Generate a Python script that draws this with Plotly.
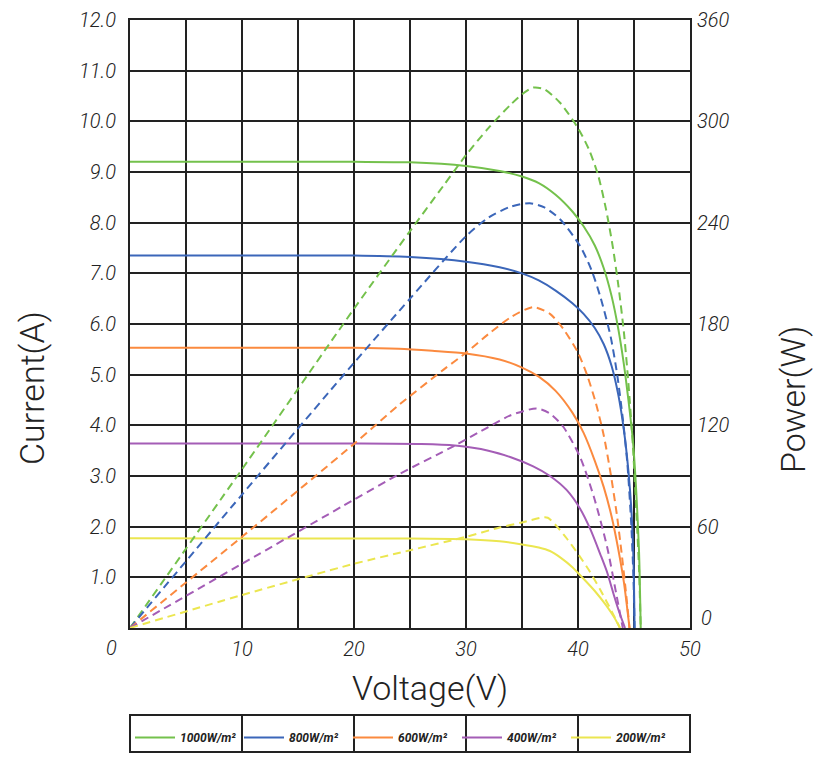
import plotly.graph_objects as go

# ---------------- data ----------------
labels = ["1000W/m²", "800W/m²", "600W/m²", "400W/m²", "200W/m²"]
colors = ["#74c14c", "#3b66b9", "#fb8a3f", "#a45db6", "#ebe650"]

# I-V curves (solid, left axis)
v_i_1000 = [0, 20, 25, 30, 33, 35, 36.5, 38, 39.5, 40.5, 41.5, 42.3, 43, 43.6, 44.1, 44.5, 44.9, 45.2, 45.45, 45.6]
i_1000 = [9.2, 9.2, 9.19, 9.12, 9.02, 8.91, 8.78, 8.55, 8.22, 7.93, 7.55, 7.1, 6.55, 5.9, 5.2, 4.5, 3.7, 2.7, 1.5, 0]

v_i_800 = [0, 20, 25, 30, 33, 35, 36.5, 38, 39.5, 40.5, 41.5, 42.3, 43, 43.6, 44.1, 44.5, 44.8, 44.97, 45.05]
i_800 = [7.35, 7.35, 7.32, 7.23, 7.12, 7.0, 6.86, 6.66, 6.41, 6.2, 5.92, 5.6, 5.17, 4.6, 3.9, 3.1, 2.2, 1.2, 0]

v_i_600 = [0, 20, 24, 27, 30, 33, 35, 36.5, 38, 39.5, 40.5, 41.5, 42.3, 43, 43.6, 44.1, 44.6]
i_600 = [5.53, 5.53, 5.51, 5.47, 5.42, 5.3, 5.14, 4.96, 4.68, 4.25, 3.85, 3.3, 2.78, 2.2, 1.55, 0.9, 0]

v_i_400 = [0, 20, 26, 29, 32, 34, 36, 37.5, 39, 40.2, 41.1, 42, 42.6, 43.2, 43.7, 44.2]
i_400 = [3.64, 3.64, 3.63, 3.6, 3.5, 3.37, 3.19, 3.0, 2.72, 2.35, 1.95, 1.45, 1.1, 0.65, 0.3, 0]

v_i_200 = [0, 25, 30, 33, 35, 36.5, 37.5, 38.5, 39.5, 40.5, 41.5, 42.5, 43.2, 43.75]
i_200 = [1.77, 1.765, 1.75, 1.71, 1.65, 1.59, 1.52, 1.38, 1.2, 0.97, 0.73, 0.45, 0.22, 0]

# P-V curves (dashed, right axis)
v_p_1000 = [0, 10, 20, 25, 28, 30, 32, 34, 35, 36, 37, 38.4, 40, 41, 41.8, 42.5, 43.1, 43.6, 44.1, 44.5, 44.9, 45.2, 45.45, 45.6]
p_1000 = [0, 94, 189, 235, 262, 280, 296, 310, 316, 320, 319, 311, 296, 283, 268, 248, 226, 203, 175, 145, 108, 70, 35, 0]

v_p_800 = [0, 10, 20, 25, 30, 32, 34, 35.7, 37, 38.4, 40.2, 41.2, 42, 42.9, 43.5, 44, 44.4, 44.75, 44.95, 45.05]
p_800 = [0, 79, 157, 195, 232, 243, 249.5, 251.5, 249, 242, 226, 212, 196, 173, 150, 124, 98, 62, 30, 0]

v_p_600 = [0, 10, 20, 24, 28, 30, 32, 34, 36, 37.5, 38.7, 40, 40.8, 41.6, 42.3, 42.9, 43.45, 43.9, 44.3, 44.6]
p_600 = [0, 54, 109, 132, 153, 163, 174, 184, 190, 186, 177, 163, 150, 133, 114, 92, 68, 44, 20, 0]

v_p_400 = [0, 10, 20, 24, 29, 32, 34, 36.3, 37.5, 38.7, 40.2, 41.4, 42.6, 43.45, 44.0]
p_400 = [0, 38, 76, 91, 108, 119, 126, 130, 127, 119, 101, 78, 48, 19, 0]

v_p_200 = [0, 10, 20, 25, 30, 33, 35, 36.9, 37.3, 38.0, 39, 40.2, 41, 42, 43, 43.75]
p_200 = [0, 19.5, 38, 46, 54, 59.5, 62.5, 65.5, 65.3, 61, 53, 42, 34, 22.5, 10, 0]

x_ticks = [0, 5, 10, 15, 20, 25, 30, 35, 40, 45, 50]
x_ticktext = ["", "", "10", "", "20", "", "30", "", "40", "", "50"]
y_ticks = [0, 1, 2, 3, 4, 5, 6, 7, 8, 9, 10, 11, 12]
y_ticktext = ["", "1.0", "2.0", "3.0", "4.0", "5.0", "6.0", "7.0", "8.0", "9.0", "10.0", "11.0", "12.0"]
y2_ticks = [0, 60, 120, 180, 240, 300, 360]
y2_ticktext = ["", "60", "120", "180", "240", "300", "360"]

iv = [(v_i_1000, i_1000), (v_i_800, i_800), (v_i_600, i_600), (v_i_400, i_400), (v_i_200, i_200)]
pv = [(v_p_1000, p_1000), (v_p_800, p_800), (v_p_600, p_600), (v_p_400, p_400), (v_p_200, p_200)]

# ---------------- figure ----------------
TICKFONT = dict(family="Roboto, DejaVu Sans", size=20, color="#222", style="italic", weight=300)
TITLEFONT = dict(family="Roboto, DejaVu Sans", size=34, color="#222", weight=300)

fig = go.Figure()
for lab, col, (vx, vy) in zip(labels, colors, iv):
    fig.add_trace(go.Scatter(x=vx, y=vy, mode="lines", name=lab,
                             line=dict(color=col, width=2, shape="spline", smoothing=0.7),
                             yaxis="y", hoverinfo="skip"))
for lab, col, (px, py) in zip(labels, colors, pv):
    fig.add_trace(go.Scatter(x=px, y=py, mode="lines", name=lab + " P", showlegend=False,
                             line=dict(color=col, width=2, dash="8px,5px", shape="spline", smoothing=0.7),
                             yaxis="y2", hoverinfo="skip"))

grid = dict(showgrid=True, gridcolor="#222", gridwidth=2, zeroline=False, automargin=False,
            showline=True, linecolor="#222", linewidth=2, mirror=True, ticks="")

fig.update_layout(
    width=815, height=758,
    margin=dict(l=130, r=125, t=20, b=130, autoexpand=False),
    paper_bgcolor="white", plot_bgcolor="white",
    xaxis=dict(range=[0, 50], tickvals=x_ticks, ticktext=x_ticktext, tickfont=TICKFONT,
               ticklabelstandoff=2, **grid),
    yaxis=dict(range=[0, 12], tickvals=y_ticks, ticktext=y_ticktext, tickfont=TICKFONT,
               ticklabelstandoff=8, **grid),
    yaxis2=dict(range=[0, 360], tickvals=y2_ticks, ticktext=y2_ticktext, tickfont=TICKFONT,
                overlaying="y", side="right", showgrid=False, zeroline=False, showline=False,
                ticks="", ticklabelstandoff=6, automargin=False),
    showlegend=True,
    legend=dict(orientation="h", x=0, xanchor="left", xref="paper",
                y=(758 - 723) / 758, yanchor="top", yref="container",
                entrywidth=54, entrywidthmode="pixels", itemwidth=40,
                font=dict(family="Roboto, DejaVu Sans", size=12, color="#222", style="italic", weight=700),
                bgcolor="rgba(0,0,0,0)", borderwidth=0, tracegroupgap=0),
)

# legend frame with cell dividers
ytop = (628 - 715) / 608
ybot = (628 - 752) / 608
fig.add_shape(type="rect", xref="paper", yref="paper", x0=0, x1=1, y0=ybot, y1=ytop,
              line=dict(color="#222", width=2))
for k in range(1, 5):
    fig.add_shape(type="line", xref="paper", yref="paper", x0=k / 5, x1=k / 5, y0=ybot, y1=ytop,
                  line=dict(color="#222", width=2))

# axis titles and corner zeros
ann = dict(xref="paper", yref="paper", showarrow=False, xanchor="center", yanchor="middle")
fig.add_annotation(text="Current(A)", x=(32 - 130) / 560, y=(628 - 388) / 608,
                   textangle=-90, font=TITLEFONT, **ann)
fig.add_annotation(text="Power(W)", x=(793 - 130) / 560, y=(628 - 400) / 608,
                   textangle=-90, font=TITLEFONT, **ann)
fig.add_annotation(text="Voltage(V)", x=(430 - 130) / 560, y=(628 - 688) / 608,
                   font=TITLEFONT, **ann)
fig.add_annotation(text="0", x=(111 - 130) / 560, y=(628 - 648) / 608, font=TICKFONT, **ann)
fig.add_annotation(text="0", x=(706 - 130) / 560, y=(628 - 618) / 608, font=TICKFONT, **ann)

fig.write_html("out.html", config={"displayModeBar": False},
               post_script="document.body.style.margin='0px';")
